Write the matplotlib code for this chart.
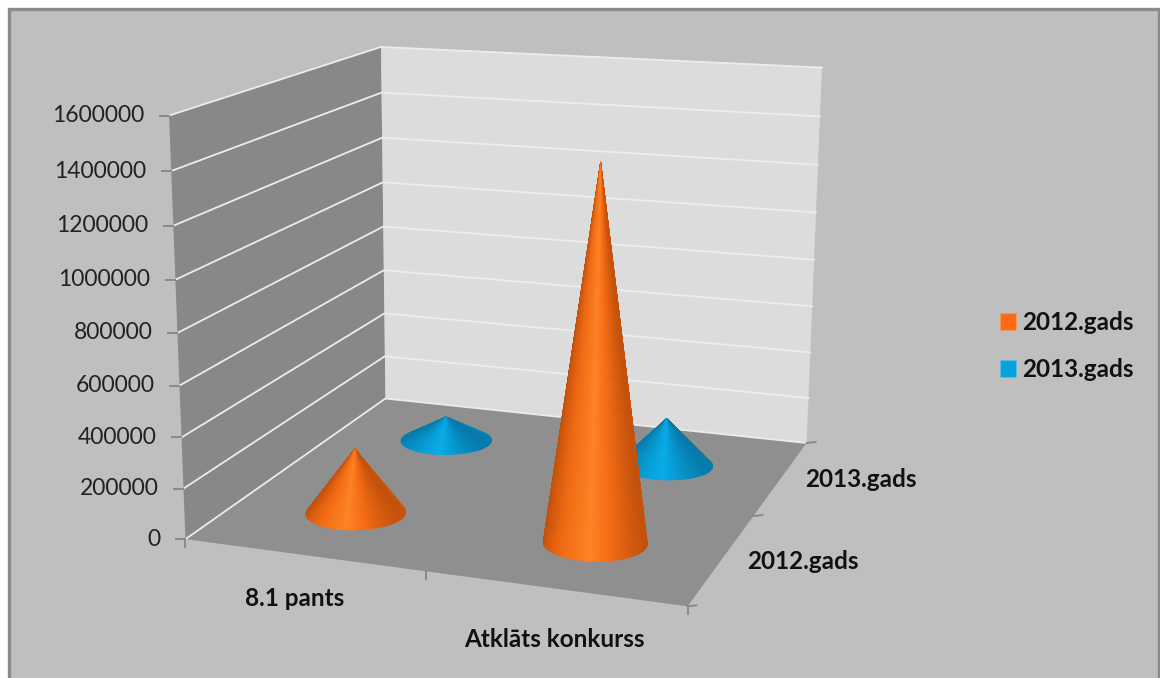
import numpy as np
import matplotlib
matplotlib.use("Agg")
import matplotlib.pyplot as plt
from matplotlib.patches import Patch, Polygon, Rectangle
from matplotlib.colors import LinearSegmentedColormap

categories = ["8.1 pants", "Atklāts konkurss"]
series_names = ["2012.gads", "2013.gads"]
values_2012 = [260000, 1440000]
values_2013 = [105000, 200000]
z_ticks = [0, 200000, 400000, 600000, 800000, 1000000, 1200000, 1400000, 1600000]

ZMAX = 1600000
CONE_R = 0.2

plt.rcParams["font.family"] = ["Lato", "DejaVu Sans"]

# pixel positions of the plot box corners, used to fit the camera
box_world = np.array([[0, 0, 0], [2, 0, 0], [2, 2, 0], [0, 2, 0], [0, 0, 1], [0, 2, 1], [2, 2, 1]], float)
box_px = np.array([[186, 539], [687, 607], [807, 442], [385, 399], [169, 115], [381, 47], [822, 68]], float)


def fit_camera(world, px):
    rows = []
    for (x, y, z), (u, v) in zip(world, px):
        rows.append([x, y, z, 1, 0, 0, 0, 0, -u * x, -u * y, -u * z, -u])
        rows.append([0, 0, 0, 0, x, y, z, 1, -v * x, -v * y, -v * z, -v])
    return np.linalg.svd(np.array(rows))[2][-1].reshape(3, 4)


CAM = fit_camera(box_world, box_px)


def project(x, y, z):
    # x, y in category slots, z in chart values
    pts = np.stack(np.broadcast_arrays(x, y, np.asarray(z) / ZMAX, 1.0), axis=-1)
    uvw = pts @ CAM.T
    return uvw[..., :2] / uvw[..., 2:]


def draw_cone(ax, xc, yc, value, cmap):
    ang = np.linspace(0, 2 * np.pi, 161)
    ring = project(xc + CONE_R * np.cos(ang), yc + CONE_R * np.sin(ang), 0.0)
    apex = project(xc, yc, value)
    ax.add_patch(Polygon(ring, closed=True, fc=cmap(0.5), ec="none", zorder=3))
    mids = (ang[:-1] + ang[1:]) / 2
    # back of the cone first, front facets on top
    for i in np.argsort(-np.sin(mids)):
        tri = [ring[i], ring[i + 1], apex]
        c = cmap((np.cos(mids[i]) + 1) / 2)
        ax.add_patch(Polygon(tri, closed=True, fc=c, ec=c, lw=0.3, zorder=3))


fig = plt.figure(figsize=(11.6, 6.78), dpi=100, facecolor="white")
ax = fig.add_axes([0, 0, 1, 1])
ax.set_xlim(0, 1160)
ax.set_ylim(678, 0)
ax.axis("off")

ax.add_patch(Rectangle((9, 9), 1150, 675, fc="#bfbfbf", ec="#8a8a8a", lw=2.4, zorder=0))

# walls and floor
floor = project(np.array([0, 2, 2, 0]), np.array([0, 0, 2, 2]), 0.0)
left = project(np.zeros(4), np.array([0, 2, 2, 0]), np.array([0, 0, ZMAX, ZMAX]))
back = project(np.array([0, 2, 2, 0]), np.full(4, 2), np.array([0, 0, ZMAX, ZMAX]))
ax.add_patch(Polygon(left, closed=True, fc="#888888", ec="none", zorder=1))
ax.add_patch(Polygon(back, closed=True, fc="#dcdcdc", ec="none", zorder=1))
ax.add_patch(Polygon(floor, closed=True, fc="#8f8f8f", ec="none", zorder=1))

for z in z_ticks:
    line = project(np.array([0, 0, 2]), np.array([0, 2, 2]), z)
    ax.plot(line[:, 0], line[:, 1], color="#ececec", lw=1.3, zorder=2)
    p = project(0, 0, z)
    ax.plot([p[0] - 9, p[0]], [p[1], p[1]], color="#8a8a8a", lw=1.4, zorder=2)
    ax.text(p[0] - 25, p[1], str(z), ha="right", va="center", fontsize=16.5, color="#222222")

# ticks along the floor edges
for x in [0, 1, 2]:
    p = project(x, 0, 0)
    ax.plot([p[0], p[0]], [p[1], p[1] + 8], color="#8a8a8a", lw=1.4, zorder=2)
for y in [0, 1, 2]:
    p = project(2, y, 0)
    ax.plot([p[0], p[0] + 9], [p[1], p[1] - 1], color="#8a8a8a", lw=1.4, zorder=2)

cat_offsets = [(-9, 44), (0, 51)]
for i, name in enumerate(categories):
    p = project(i + 0.5, 0, 0)
    ax.text(p[0] + cat_offsets[i][0], p[1] + cat_offsets[i][1], name, ha="center", va="center",
            fontsize=17.5, fontweight="bold", color="#111111")
ser_offsets = [(81, 3), (80, 2)]
for i, name in enumerate(series_names):
    p = project(2, i + 0.5, 0)
    ax.text(p[0] + ser_offsets[i][0], p[1] + ser_offsets[i][1], name, ha="center", va="center",
            fontsize=17.5, fontweight="bold", color="#111111")

orange = LinearSegmentedColormap.from_list("orange", [
    (0, "#b94d0c"), (0.12, "#d2590e"), (0.3, "#f06a14"), (0.5, "#fb7a1e"), (0.6, "#ff8428"), (0.78, "#f56c14"), (1, "#c4520c")])
blue = LinearSegmentedColormap.from_list("blue", [
    (0, "#067aaa"), (0.25, "#0790c6"), (0.5, "#08a6e0"), (0.6, "#09aeea"), (0.8, "#0792ca"), (1, "#067aaa")])

# far row first so the near cones sit in front
for i, v in enumerate(values_2013):
    draw_cone(ax, i + 0.5, 1.5, v, blue)
for i, v in enumerate(values_2012):
    draw_cone(ax, i + 0.5, 0.5, v, orange)

handles = [Patch(fc="#fb6a18", ec="#f59a5a", lw=0.5, label=series_names[0]),
           Patch(fc="#08a2dc", ec="#5cc0e8", lw=0.5, label=series_names[1])]
ax.legend(handles=handles, loc="center left", bbox_to_anchor=(1000 / 1160, 1 - 346 / 678), frameon=False,
          prop={"size": 17.5, "weight": "bold"}, handlelength=0.66, handleheight=0.66, handletextpad=0.25,
          labelspacing=1.0, labelcolor="#111111", borderaxespad=0, borderpad=0)

fig.savefig("out.png", dpi=100, facecolor="white")
